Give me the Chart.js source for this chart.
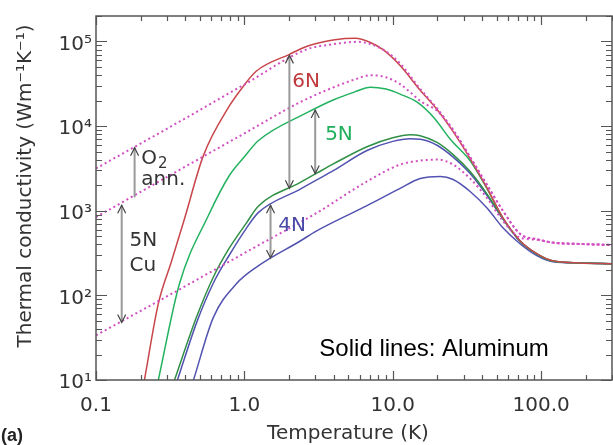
<!DOCTYPE html>
<html>
<head>
<meta charset="utf-8">
<script src="https://cdn.jsdelivr.net/npm/chart.js@4.4.0/dist/chart.umd.min.js"></script>
<style>
  body { margin: 0; background: #fff; }
  #wrap { width: 613px; height: 445px; }
</style>
</head>
<body>
<div id="wrap"><canvas id="chart" width="613" height="445"></canvas></div>
<script>
// Temperature (K) / thermal conductivity (W/m/K)

// copper (dotted)
const tCuO2 = [0.1, 0.3, 1, 2.62, 4, 5.8, 8.6, 11.2, 15.3, 20, 25.5, 33.2, 43.3, 55.4, 72.3, 94, 120, 183, 300];
const kCuO2 = [3160, 9290, 31000, 80500, 93000, 99000, 80000, 55000, 27500, 16000, 9000, 4300, 2000, 990, 530, 460, 420, 405, 394];
const tCuMid = [0.1, 0.3, 1, 2.38, 4, 5.6, 7.05, 9, 11.2, 13.1, 15.3, 20, 25.5, 33.2, 43.3, 55.4, 72.3, 94, 120, 183, 300];
const kCuMid = [840, 2500, 8200, 19200, 28800, 35800, 39900, 37800, 31300, 25200, 19800, 15000, 9000, 4300, 2000, 990, 530, 460, 420, 405, 394];
const tCu5N = [0.1, 0.3, 1.24, 3.05, 6.7, 11.2, 15.3, 20, 25.5, 33.2, 43.3, 55.4, 72.3, 94, 120, 183, 300];
const kCu5N = [33.7, 97, 390, 935, 2220, 3510, 3910, 4020, 3510, 2400, 1400, 753, 480, 455, 420, 405, 394];

// aluminium (solid)
const tAl6N = [0.212, 0.263, 0.322, 0.394, 0.529, 0.792, 0.984, 1.2, 2.01, 2.62, 3.5, 4.6, 5.6, 7, 8.6, 11.2, 15.3, 20, 25.5, 33.2, 43.3, 55.4, 72.3, 94, 120, 183, 300];
const kAl6N = [10, 80, 250, 795, 4480, 17300, 29600, 44500, 70500, 87300, 100000, 108000, 109000, 98000, 80000, 52000, 26500, 15500, 8600, 4130, 1840, 817, 439, 309, 256, 242, 236];
const tAl5N = [0.263, 0.365, 0.573, 0.792, 1.0, 1.24, 2.62, 4, 5.5, 7.05, 9, 11.2, 14.6, 19, 24.4, 33.2, 43.3, 55.4, 72.3, 94, 120, 183, 300];
const kAl5N = [10, 137, 885, 2610, 4350, 6710, 14300, 20500, 25200, 28800, 27400, 23900, 19200, 12500, 7000, 3900, 1800, 810, 437, 308, 255, 242, 236];
const tAl4Na = [0.338, 0.475, 0.618, 0.792, 1.03, 1.24, 2.38, 3.05, 4, 6.7, 10, 13.1, 15.3, 20, 25.5, 33.2, 43.3, 55.4, 72.3, 94, 120, 183, 300];
const kAl4Na = [10, 55, 165, 363, 713, 1130, 2160, 2760, 3600, 5710, 7280, 7890, 7700, 6370, 4600, 2900, 1560, 800, 435, 306, 254, 242, 236];
const tAl4Nb = [0.354, 0.475, 0.618, 0.792, 1.03, 1.24, 2.38, 3.05, 4, 6.7, 10, 13.1, 15.3, 20, 25.5, 33.2, 43.3, 55.4, 72.3, 94, 120, 183, 300];
const kAl4Nb = [10, 47, 140, 300, 620, 950, 1800, 2300, 3000, 5150, 6600, 7080, 7000, 5900, 4300, 2750, 1500, 790, 430, 305, 253, 242, 236];
const tAl4Nc = [0.454, 0.618, 0.883, 1.24, 2.38, 3.05, 6.7, 11.2, 15.3, 20.9, 25.5, 33.2, 43.3, 55.4, 72.3, 94, 120, 183, 300];
const kAl4Nc = [10, 55, 137, 223, 439, 575, 1150, 1840, 2400, 2540, 2340, 1690, 1070, 624, 405, 293, 250, 242, 236];

// axis ticks
const xTickValues = [0.1, 1, 10, 100];
const xTickLabels = ['0.1', '1.0', '10.0', '100.0'];
const yTickValues = [10, 100, 1000, 10000, 100000];
const yTickLabels = ['10\u00b9', '10\u00b2', '10\u00b3', '10\u2074', '10\u2075'];

// arrows (T, low K, high K, two heads?)
const arrowT = [2.01, 3.0, 1.5, 0.182, 0.149];
const arrowLo = [1840, 2750, 277, 1440, 47.9];
const arrowHi = [68500, 15500, 1160, 5560, 1160];
const arrowBoth = [true, true, true, false, true];

// annotations
const labelText = ['6N', '5N', '4N', 'O', 'ann.', '5N', 'Cu', 'Solid lines: Aluminum'];
const labelSub = ['', '', '', '2', '', '', '', ''];
const labelT = [2.1, 3.5, 1.69, 0.202, 0.202, 0.168, 0.168, 3.2];
const labelK = [28800, 6900, 575, 3600, 1990, 384, 195, 19.1];
const labelColor = ['#c0393d', '#1fae5a', '#4a4aa8', '#333', '#333', '#333', '#333', '#000'];

const pts = (t, k) => t.map((v, i) => ({x: v, y: k[i]}));

const cuStyle = {borderColor: '#d24fc2', borderWidth: 2, borderDash: [2, 3]};
function line(label, t, k, style) {
    return Object.assign({
        label: label,
        data: pts(t, k),
        pointRadius: 0,
        fill: false,
        cubicInterpolationMode: 'monotone'
    }, style);
}

// frame with inward ticks on all four sides
const frameTicks = {
    id: 'frameTicks',
    afterDatasetsDraw(chart) {
        const {ctx, chartArea: a, scales: {x, y}} = chart;
        ctx.save();
        ctx.strokeStyle = '#555';
        ctx.lineWidth = 1.5;
        ctx.strokeRect(a.left, a.top, a.right - a.left, a.bottom - a.top);
        ctx.lineWidth = 1.2;
        ctx.beginPath();
        for (let e = -1; e <= 2; e++) {
            for (let m = 1; m <= 9; m++) {
                const v = m * Math.pow(10, e);
                if (v > 300) continue;
                const px = Math.round(x.getPixelForValue(v)) + 0.5;
                const len = m === 1 ? 9 : 5;
                ctx.moveTo(px, a.bottom); ctx.lineTo(px, a.bottom - len);
                ctx.moveTo(px, a.top); ctx.lineTo(px, a.top + len);
            }
        }
        for (let e = 1; e <= 5; e++) {
            for (let m = 1; m <= 9; m++) {
                const v = m * Math.pow(10, e);
                if (v > 200000) continue;
                const py = Math.round(y.getPixelForValue(v)) + 0.5;
                const len = m === 1 ? 11 : 6;
                ctx.moveTo(a.left, py); ctx.lineTo(a.left + len, py);
                ctx.moveTo(a.right, py); ctx.lineTo(a.right - len, py);
            }
        }
        ctx.stroke();
        ctx.restore();
    }
};

// arrows, labels and axis titles
const notes = {
    id: 'notes',
    afterDraw(chart) {
        const {ctx, scales: {x, y}} = chart;
        ctx.save();
        arrowT.forEach((t, i) => {
            const px = x.getPixelForValue(t);
            const y0 = y.getPixelForValue(arrowLo[i]);
            const y1 = y.getPixelForValue(arrowHi[i]);
            ctx.strokeStyle = '#999';
            ctx.lineWidth = 2;
            ctx.beginPath();
            ctx.moveTo(px, y0); ctx.lineTo(px, y1);
            ctx.stroke();
            ctx.strokeStyle = '#444';
            ctx.lineWidth = 1.2;
            ctx.beginPath();
            ctx.moveTo(px - 4, y1 + 8); ctx.lineTo(px, y1); ctx.lineTo(px + 4, y1 + 8);
            if (arrowBoth[i]) {
                ctx.moveTo(px - 4, y0 - 8); ctx.lineTo(px, y0); ctx.lineTo(px + 4, y0 - 8);
            }
            ctx.stroke();
        });

        ctx.textBaseline = 'alphabetic';
        ctx.textAlign = 'left';
        labelText.forEach((s, i) => {
            const big = i === labelText.length - 1;
            ctx.font = big ? '24px "Liberation Sans", Arial' : '20px "DejaVu Sans"';
            ctx.fillStyle = labelColor[i];
            const lx = x.getPixelForValue(labelT[i]);
            const ly = y.getPixelForValue(labelK[i]);
            ctx.fillText(s, lx, ly);
            if (labelSub[i]) {
                const w = ctx.measureText(s).width;
                ctx.font = '15px "DejaVu Sans"';
                ctx.fillText(labelSub[i], lx + w + 1, ly + 4);
            }
        });

        ctx.fillStyle = '#333';
        ctx.font = '20px "DejaVu Sans"';
        ctx.textAlign = 'center';
        ctx.fillText('Temperature (K)', 348, 439);
        ctx.save();
        ctx.translate(31, 186);
        ctx.rotate(-Math.PI / 2);
        ctx.fillText('Thermal conductivity (Wm\u207b\u00b9K\u207b\u00b9)', 0, 0);
        ctx.restore();

        ctx.fillStyle = '#222';
        ctx.font = 'bold 18px "Liberation Sans", Arial';
        ctx.textAlign = 'left';
        ctx.fillText('(a)', 1, 441);
        ctx.restore();
    }
};

new Chart(document.getElementById('chart').getContext('2d'), {
    type: 'line',
    data: {
        datasets: [
            line('Cu O2 annealed', tCuO2, kCuO2, cuStyle),
            line('Cu', tCuMid, kCuMid, cuStyle),
            line('Cu 5N', tCu5N, kCu5N, cuStyle),
            line('Al 6N', tAl6N, kAl6N, {borderColor: '#c8464b', borderWidth: 1.5}),
            line('Al 5N', tAl5N, kAl5N, {borderColor: '#22b25f', borderWidth: 1.5}),
            line('Al 4N a', tAl4Na, kAl4Na, {borderColor: '#2f8f45', borderWidth: 1.5}),
            line('Al 4N b', tAl4Nb, kAl4Nb, {borderColor: '#5252b0', borderWidth: 1.5}),
            line('Al 4N c', tAl4Nc, kAl4Nc, {borderColor: '#5252b0', borderWidth: 1.5})
        ]
    },
    options: {
        responsive: false,
        animation: false,
        events: [],
        layout: { padding: { left: 0, top: 14, right: 1, bottom: 0 } },
        plugins: { legend: { display: false }, tooltip: { enabled: false } },
        scales: {
            x: {
                type: 'logarithmic',
                min: 0.1,
                max: 300,
                afterFit: s => { s.height = 65; },
                afterBuildTicks: s => { s.ticks = xTickValues.map(v => ({value: v})); },
                grid: { display: false, drawTicks: false },
                border: { display: false },
                ticks: {
                    autoSkip: false,
                    maxRotation: 0,
                    padding: 14,
                    color: '#333',
                    font: { family: 'DejaVu Sans', size: 20 },
                    callback: (v, i) => xTickLabels[i]
                }
            },
            y: {
                type: 'logarithmic',
                min: 10,
                max: 200000,
                afterFit: s => { s.width = 96; },
                afterBuildTicks: s => { s.ticks = yTickValues.map(v => ({value: v})); },
                grid: { display: false, drawTicks: false },
                border: { display: false },
                ticks: {
                    autoSkip: false,
                    padding: 4,
                    labelOffset: 3,
                    color: '#333',
                    font: { family: 'DejaVu Sans', size: 20 },
                    callback: (v, i) => yTickLabels[i]
                }
            }
        }
    },
    plugins: [frameTicks, notes]
});
</script>
</body>
</html>
